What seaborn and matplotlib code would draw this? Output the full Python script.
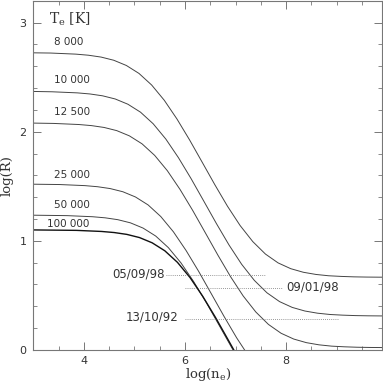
import matplotlib
matplotlib.use('Agg')
import matplotlib.pyplot as plt
import seaborn as sns
import pandas as pd
from matplotlib.ticker import MultipleLocator

# curves: log(n_e) vs log(R) for each T_e
x_8000 = [3.0, 3.34, 3.84, 4.09, 4.34, 4.59, 4.84, 5.09, 5.34, 5.59, 5.84, 6.09, 6.34, 6.59, 6.84,
          7.09, 7.34, 7.59, 7.84, 8.09, 8.34, 8.59, 8.84, 9.09, 9.34, 9.59, 9.84, 9.9]
r_8000 = [2.723, 2.721, 2.711, 2.701, 2.684, 2.655, 2.607, 2.534, 2.428, 2.288, 2.117, 1.925, 1.720,
          1.514, 1.317, 1.140, 0.993, 0.879, 0.798, 0.745, 0.712, 0.692, 0.680, 0.674, 0.670, 0.668,
          0.667, 0.667]

x_10000 = [3.0, 3.37, 3.87, 4.12, 4.37, 4.62, 4.87, 5.12, 5.37, 5.62, 5.87, 6.12, 6.37, 6.62, 6.87,
           7.12, 7.37, 7.62, 7.87, 8.12, 8.37, 8.62, 8.87, 9.12, 9.37, 9.62, 9.87, 9.9]
r_10000 = [2.369, 2.366, 2.356, 2.346, 2.329, 2.300, 2.252, 2.179, 2.073, 1.933, 1.762, 1.570, 1.365,
           1.159, 0.962, 0.785, 0.638, 0.524, 0.443, 0.390, 0.357, 0.337, 0.325, 0.319, 0.315, 0.313,
           0.312, 0.312]

x_12500 = [3.0, 3.40, 3.90, 4.15, 4.40, 4.65, 4.90, 5.15, 5.40, 5.65, 5.90, 6.15, 6.40, 6.65, 6.90,
           7.15, 7.40, 7.65, 7.90, 8.15, 8.40, 8.65, 8.90, 9.15, 9.40, 9.65, 9.90]
r_12500 = [2.079, 2.076, 2.066, 2.056, 2.039, 2.010, 1.962, 1.889, 1.783, 1.643, 1.472, 1.280, 1.075,
           0.869, 0.672, 0.495, 0.348, 0.234, 0.153, 0.100, 0.067, 0.047, 0.035, 0.029, 0.025, 0.023,
           0.022]

x_25000 = [3.0, 3.52, 4.02, 4.27, 4.52, 4.77, 5.02, 5.27, 5.52, 5.77, 6.02, 6.27, 6.52, 6.77, 7.02, 7.27]
r_25000 = [1.519, 1.516, 1.506, 1.496, 1.479, 1.450, 1.402, 1.329, 1.223, 1.083, 0.912, 0.720, 0.515,
           0.309, 0.112, -0.065]

x_50000 = [3.0, 3.67, 4.17, 4.42, 4.67, 4.92, 5.17, 5.42, 5.67, 5.92, 6.17, 6.42, 6.67, 6.92, 7.17]
r_50000 = [1.235, 1.231, 1.221, 1.211, 1.194, 1.165, 1.117, 1.044, 0.938, 0.798, 0.627, 0.435, 0.230,
           0.024, -0.173]

x_100000 = [3.0, 3.85, 4.35, 4.60, 4.85, 5.10, 5.35, 5.60, 5.85, 6.10, 6.35, 6.60, 6.85, 7.10]
r_100000 = [1.100, 1.096, 1.086, 1.076, 1.059, 1.030, 0.982, 0.909, 0.803, 0.663, 0.492, 0.300, 0.095,
            -0.111]

temp_labels = ['8 000', '10 000', '12 500', '25 000', '50 000', '100 000']
label_x = [3.70, 3.77, 3.77, 3.77, 3.77, 3.69]
label_y = [2.82, 2.47, 2.18, 1.60, 1.327, 1.153]

# observed ratios (dates) as dotted levels
obs_dates = ['05/09/98', '09/01/98', '13/10/92']
obs_r = [0.683, 0.564, 0.284]
obs_x0 = [5.62, 6.0, 6.0]
obs_x1 = [7.6, 7.92, 9.03]

sns.set_theme(style='ticks', rc={
    'xtick.direction': 'in', 'ytick.direction': 'in',
    'xtick.top': True, 'ytick.right': True,
    'axes.edgecolor': '#777777', 'xtick.color': '#777777', 'ytick.color': '#777777',
    'xtick.labelcolor': '#333333', 'ytick.labelcolor': '#333333',
    'axes.linewidth': 0.8,
})
plt.rcParams['font.family'] = ['DejaVu Sans']
plt.rcParams['mathtext.fontset'] = 'dejavuserif'

fig = plt.figure(figsize=(3.83, 3.85), dpi=100)
ax = fig.add_axes([0.087, 0.091, 0.911, 0.907])

curves = [(x_8000, r_8000), (x_10000, r_10000), (x_12500, r_12500),
          (x_25000, r_25000), (x_50000, r_50000), (x_100000, r_100000)]
for i, (xs, rs) in enumerate(curves):
    df = pd.DataFrame({'logn': xs, 'logR': rs})
    thick = (i == len(curves) - 1)
    sns.lineplot(data=df, x='logn', y='logR', ax=ax, sort=False, estimator=None,
                 color='#111111' if thick else '#444444', linewidth=1.0 if thick else 0.7)

for t, tx, ty in zip(temp_labels, label_x, label_y):
    ax.text(tx, ty, t, ha='center', va='center', fontsize=7.5, color='#333333')
ax.text(3.72, 3.03, r'T$_\mathrm{e}$ [K]', ha='center', va='center', fontsize=10,
        color='#333333', family='DejaVu Serif')

for d, r, x0, x1 in zip(obs_dates, obs_r, obs_x0, obs_x1):
    ax.plot([x0, x1], [r, r], linestyle=(0, (1, 1.5)), color='#777777', linewidth=0.6)
ax.text(5.60, 0.70, obs_dates[0], ha='right', va='center', fontsize=8.5, color='#333333')
ax.text(8.01, 0.579, obs_dates[1], ha='left', va='center', fontsize=8.5, color='#333333')
ax.text(5.87, 0.305, obs_dates[2], ha='right', va='center', fontsize=8.5, color='#333333')

ax.set_xlim(3.0, 9.9)
ax.set_ylim(0, 3.2)
ax.xaxis.set_major_locator(MultipleLocator(2))
ax.xaxis.set_minor_locator(MultipleLocator(0.5))
ax.yaxis.set_major_locator(MultipleLocator(1))
ax.yaxis.set_minor_locator(MultipleLocator(0.2))
ax.tick_params(which='major', length=6, width=0.7, labelsize=8)
ax.tick_params(which='minor', length=3, width=0.6)
ax.tick_params(axis='y', pad=5)
ax.tick_params(axis='x', pad=4)

ax.set_xlabel(r'log(n$_\mathrm{e}$)', fontsize=9.5, family='DejaVu Serif', color='#333333', labelpad=0)
ax.set_ylabel('log(R)', fontsize=9.5, family='DejaVu Serif', color='#333333', labelpad=4)

fig.savefig('out.png', dpi=100)
